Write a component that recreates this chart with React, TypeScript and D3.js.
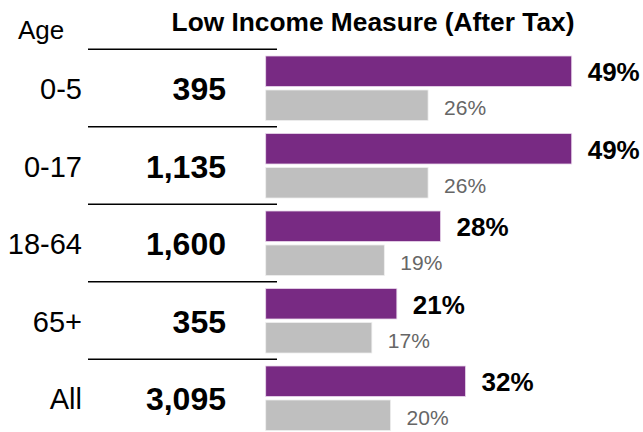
import * as d3 from 'd3';
import React from 'react';

const ages = ['0-5', '0-17', '18-64', '65+', 'All'];
const counts = [395, 1135, 1600, 355, 3095];
// LIM-AT rate for the area (purple) and the comparison rate (grey)
const limRate = [49, 49, 28, 21, 32];
const compRate = [26, 26, 19, 17, 20];

const W = 643;
const H = 432;
const FONT = 'Arial, "Liberation Sans", sans-serif';
const PURPLE = '#782A83';
const GREY = '#BFBFBF';

function App() {
    // one band per age group, rows separated by a rule
    const y = d3.scaleBand<string>()
        .domain(ages)
        .range([49.3, 49.3 + 77.5 * ages.length]);

    const x = d3.scaleLinear()
        .domain([0, 49])
        .range([265.7, 571.7]);

    const fmt = d3.format(',');
    const barH = 30.5;

    return (
        <svg width={W} height={H} style={{ position: 'absolute', left: 0, top: 0 }} fontFamily={FONT}>
            <text x={18} y={38.5} fontSize={26} fill="#000">Age</text>
            <text x={373} y={30.7} fontSize={26.3} fontWeight="bold" textAnchor="middle" fill="#000">
                Low Income Measure (After Tax)
            </text>

            {ages.map((a, i) => {
                const y0 = y(a) as number;
                const yp = y0 + 6.7;
                const yg = y0 + 40.7;
                return (
                    <g key={a}>
                        <line x1={88} x2={277} y1={y0} y2={y0} stroke="#000" strokeWidth={1.5} />
                        <text x={82} y={y0 + 50} fontSize={29} textAnchor="end" fill="#000">{a}</text>
                        <text x={226} y={y0 + 51} fontSize={32} fontWeight="bold" textAnchor="end" fill="#000">
                            {fmt(counts[i])}
                        </text>
                        <rect x={x(0)} y={yp} width={x(limRate[i]) - x(0)} height={barH}
                            fill={PURPLE} stroke="#e9d8ec" strokeWidth={0.8} />
                        <rect x={x(0)} y={yg} width={x(compRate[i]) - x(0)} height={barH}
                            fill={GREY} stroke="#eeeeee" strokeWidth={0.8} />
                        <text x={x(limRate[i]) + 16} y={yp + barH / 2 + 10} fontSize={26} fontWeight="bold" fill="#000">
                            {limRate[i]}%
                        </text>
                        <text x={x(compRate[i]) + 16} y={yg + barH / 2 + 10} fontSize={21} fill="#666666">
                            {compRate[i]}%
                        </text>
                    </g>
                );
            })}
        </svg>
    );
}

export default App;
